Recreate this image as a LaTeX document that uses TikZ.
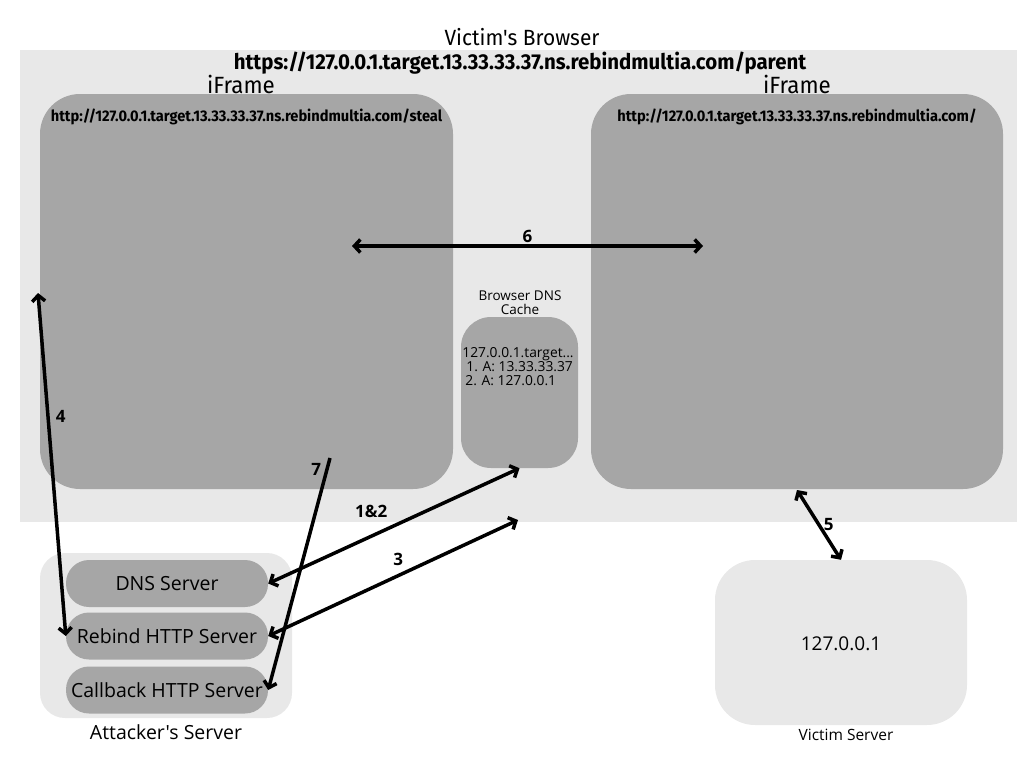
\documentclass[tikz,border=0pt]{standalone}
\usepackage{fontspec}
\setmainfont{Open Sans}[Ligatures=TeXOff]
\newfontfamily\condfont{Fira Sans}[FakeStretch=0.95, Ligatures=TeXOff]
\usetikzlibrary{arrows.meta,positioning}
\definecolor{boxgray} {RGB} {166, 166, 166}
\definecolor{panelgray} {RGB} {232, 232, 232}
\tikzstyle{panel}=[fill=panelgray, inner sep=0pt]
\tikzstyle{frame}=[fill=boxgray, rounded corners=40pt, inner sep=0pt]
\tikzstyle{pill}=[fill=boxgray, rounded corners=23pt, inner sep=0pt,
  minimum width=202pt, minimum height=47pt, font=\fontsize{19.5}{22}\selectfont]
\tikzstyle{link}=[line width=3.5pt, >={Straight Barb[length=6pt,width=13pt]}]
\tikzstyle{steplabel}=[font=\fontsize{17}{20}\selectfont\bfseries, inner sep=2pt]

\begin{document}
\begin{tikzpicture}[x=1pt,y=-1pt]
  \useasboundingbox (0,0) rectangle (1024,768);
  % browser
  \node[panel, minimum width=997pt, minimum height=472pt] (browser) at (518.5,286) {};
  \node[font=\condfont\fontsize{22}{24}\selectfont, inner sep=1pt] (browsertitle) at (522,37) {Victim's Browser};
  \node[font=\condfont\fontsize{21.5}{24}\selectfont\bfseries, inner sep=1pt] (parenturl) at (520,63)
    {https://127.0.0.1.target.13.33.33.37.ns.rebindmultia.com/parent};
  % iframes
  \node[frame, minimum width=413pt, minimum height=395pt] (steal) at (246.5,291.5) {};
  \node[frame, minimum width=412pt, minimum height=395pt] (root) at (797,291.5) {};
  \node[font=\condfont\fontsize{23.5}{26}\selectfont, inner sep=1pt] (stealtitle) at (241,84) {iFrame};
  \node[font=\condfont\fontsize{23.5}{26}\selectfont, inner sep=1pt] (roottitle) at (797,84) {iFrame};
  \node[font=\condfont\fontsize{15.4}{18}\selectfont\bfseries] (stealurl) at (246.5,117)
    {http://127.0.0.1.target.13.33.33.37.ns.rebindmultia.com/steal};
  \node[font=\condfont\fontsize{15.4}{18}\selectfont\bfseries] (rooturl) at (797,117)
    {http://127.0.0.1.target.13.33.33.37.ns.rebindmultia.com/};
  % dns cache
  \node[frame, rounded corners=30pt, minimum width=117pt, minimum height=151pt] (cache) at (519.5,392.5) {};
  \node[font=\fontsize{13.5}{14}\selectfont, align=center] (cachetitle) at (520,303) {Browser DNS\\Cache};
  \node[font=\fontsize{13.8}{14}\selectfont, align=left, inner sep=0pt] (cacheentries) at (518,367)
    {127.0.0.1.target...\\\hspace*{4pt}1. A: 13.33.33.37\\\hspace*{3pt}2. A: 127.0.0.1};
  % attacker
  \node[panel, rounded corners=25pt, minimum width=252pt, minimum height=165pt] (attacker) at (166,635.5) {};
  \node[pill] (dns) at (167,583.5) {DNS Server};
  \node[pill] (rebind) at (167,636) {Rebind HTTP Server};
  \node[pill] (callback) at (167,690) {Callback HTTP Server};
  \node[font=\fontsize{19.5}{22}\selectfont] (attackertitle) at (166,732) {Attacker's Server};
  % victim
  \node[panel, rounded corners=40pt, minimum width=252pt, minimum height=165pt] (victim) at (841,642.5) {};
  \node[font=\fontsize{19}{22}\selectfont] (victimip) at (841,644) {127.0.0.1};
  \node[font=\fontsize{15.5}{18}\selectfont] (victimtitle) at (846,735) {Victim Server};
  % connectors
  \coordinate (p6a) at (352,246);
  \coordinate (p6b) at (703,246);
  \coordinate (p4) at (38,293);
  \coordinate (p3) at (518,520);
  \coordinate (p7) at (330,458);
  \coordinate (p5) at (797,490);
  \draw[link,<->] (p6a) -- node[steplabel, above] {6} (p6b);
  \draw[link,<->] (p4) -- node[steplabel, right=4pt, pos=0.36] {4} (rebind.west);
  \draw[link,<->] (dns.east) -- node[steplabel, above=15pt, pos=0.41] {1\&2} (cache.south);
  \draw[link,<->] (rebind.east) -- node[steplabel, above=6pt, pos=0.52] {3} (p3);
  \draw[link,->] (p7) -- node[steplabel, left=2pt, pos=0.05] {7} (callback.east);
  \draw[link,<->] (p5) -- node[steplabel, right=1pt] {5} (victim.north);
\end{tikzpicture}
\end{document}
